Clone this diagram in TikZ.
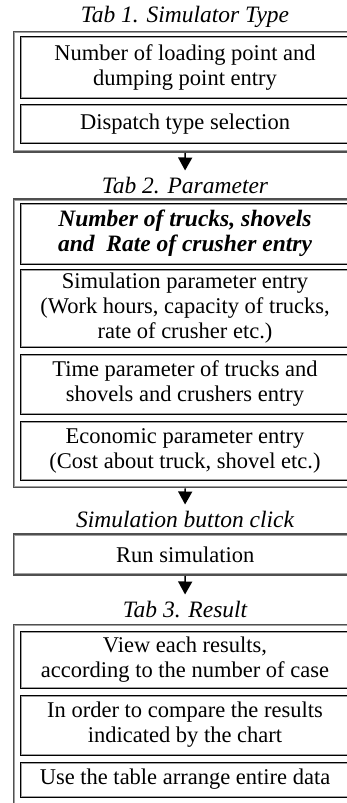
\documentclass[tikz,border=0pt]{standalone}
\usepackage{fontspec}
\setmainfont{Liberation Serif}
\usetikzlibrary{arrows.meta}
\definecolor{fgray}{HTML}{505050}
\definecolor{lgray}{HTML}{A0A0A0}
\begin{document}
\begin{tikzpicture}[x=1pt,y=-1pt,
  txt/.style={font=\fontsize{22.5}{25}\selectfont, align=center},
  ttl/.style={font=\fontsize{23.5}{25}\selectfont\itshape, inner sep=0pt, anchor=base},
  frame/.style={draw=fgray, line width=2.6pt, minimum width=342.5pt, inner sep=0pt},
  ibox/.style={draw=black, line width=0.8pt, minimum width=330pt, inner sep=0pt, txt},
  arr/.style={line width=1.5pt, -{Triangle[width=14pt,length=13pt]}, shorten >=6pt},
  lightline/.style={draw=lgray, line width=0.9pt},
  innerline/.style={draw=lgray, line width=0.6pt},
]
\useasboundingbox (0,0) rectangle (347,803);
\clip (0,0) rectangle (347,803);

% titles
\node[ttl] (t1) at (185,23) {Tab \oldstylenums{1}. Simulator Type};
\node[ttl] (t2) at (185,193) {Tab \oldstylenums{2}. Parameter};
\node[ttl] (t3) at (185,527) {Simulation button click};
\node[ttl] (t4) at (185,617) {Tab \oldstylenums{3}. Result};

% frames
\node[frame, minimum height=119.5pt] (f1) at (185.25,91.75) {};
\node[frame, minimum height=287.5pt] (f2) at (185.25,343.25) {};
\node[frame, minimum height=40pt, txt] (f3) at (185.25,554.5) {Run simulation};
\node[frame, minimum height=180pt] (f4) at (185.25,715) {};
\foreach \n in {f1,f2,f3,f4}
  \draw[lightline] ([shift={(2.1,2.1)}]\n.north west) rectangle ([shift={(-2.1,-2.1)}]\n.south east);

% inner boxes
\node[ibox, minimum height=61.5pt] (b1a) at (185,67.25) {Number of loading point and\\dumping point entry};
\node[ibox, minimum height=39.5pt] (b1b) at (185,123.75) {Dispatch type selection};

\node[ibox, minimum height=60.5pt, font=\fontsize{23.5}{25}\selectfont\bfseries\itshape] (b2a) at (185,233.75) {Number of trucks, shovels\\and~ Rate of crusher entry};
\node[ibox, minimum height=77.5pt] (b2b) at (185,308.25) {Simulation parameter entry\\(Work hours, capacity of trucks,\\rate of crusher etc.)};
\node[ibox, minimum height=60pt] (b2c) at (185,384) {Time parameter of trucks and\\shovels and crushers entry};
\node[ibox, minimum height=59pt] (b2d) at (185,450.5) {Economic parameter entry\\(Cost about truck, shovel etc.)};

\node[ibox, minimum height=56.5pt] (b4a) at (185,659.75) {View each results,\\according to the number of case};
\node[ibox, minimum height=60pt] (b4b) at (185,725) {In order to compare the results\\indicated by the chart};
\node[ibox, minimum height=35pt] (b4c) at (185,779.5) {Use the table arrange entire data};

\foreach \n in {b1a,b1b,b2a,b2b,b2c,b2d,b4a,b4b,b4c}
  \draw[innerline] ([shift={(1.4,1.4)}]\n.north west) rectangle ([shift={(-1.4,-1.4)}]\n.south east);

% arrows
\draw[arr] (f1.south) -- (t2.north);
\draw[arr] (f2.south) -- (t3.north);
\draw[arr] (f3.south) -- (t4.north);
\end{tikzpicture}
\end{document}
